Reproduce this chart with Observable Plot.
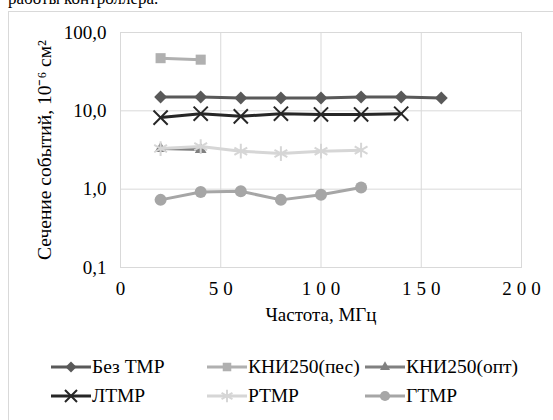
<!DOCTYPE html>
<html>
<head>
<meta charset="utf-8">
<script src="https://cdn.jsdelivr.net/npm/d3@7"></script>
<script src="https://cdn.jsdelivr.net/npm/@observablehq/plot@0.6"></script>
<style>
  html, body { margin: 0; padding: 0; background: #fff; }
  #wrap { position: relative; width: 553px; height: 420px; overflow: hidden; font-family: "Liberation Serif", "Times New Roman", serif; color: #000; }
  #above { position: absolute; left: 8px; top: -10px; font-size: 17px; line-height: 17px; white-space: nowrap; }
  #frame { position: absolute; left: 8px; top: 11px; width: 700px; height: 600px; border: 1px solid #d9d9d9; box-sizing: border-box; }
  #chart { position: absolute; left: 0; top: 0; }
  #chart svg { font-family: "Liberation Serif", "Times New Roman", serif; }
  #chart g[aria-label="x-axis tick label"] text { letter-spacing: 5px; }
  #legend { position: absolute; left: 0; top: 0; width: 553px; height: 420px; }
  .item { position: absolute; display: flex; align-items: center; font-size: 19.5px; white-space: nowrap; }
  .item svg { display: block; }
</style>
</head>
<body>
<div id="wrap">
  <div id="above">работы контроллера.</div>
  <div id="frame"></div>
  <div id="chart"></div>
  <div id="legend"></div>
</div>
<script>
// ---- data ----
const seriesNames = ["Без ТМР", "КНИ250(пес)", "КНИ250(опт)", "ЛТМР", "РТМР", "ГТМР"];
const freqBez = [20, 40, 60, 80, 100, 120, 140, 160];
const valBez  = [15.0, 15.0, 14.6, 14.6, 14.6, 15.0, 15.0, 14.6];
const freqKniPes = [20, 40];
const valKniPes  = [47, 45];
const freqKniOpt = [20, 40];
const valKniOpt  = [3.3, 3.2];
const freqL = [20, 40, 60, 80, 100, 120, 140];
const valL  = [8.2, 9.2, 8.5, 9.2, 9.0, 9.0, 9.2];
const freqR = [20, 40, 60, 80, 100, 120];
const valR  = [3.3, 3.5, 3.05, 2.85, 3.05, 3.15];
const freqG = [20, 40, 60, 80, 100, 120];
const valG  = [0.73, 0.92, 0.94, 0.73, 0.85, 1.05];
const xTicks = [0, 50, 100, 150, 200];
const yTicks = [0.1, 1, 10, 100];
const xTitle = "Частота, МГц";
const yTitle = "Сечение событий, 10⁻⁶ см²";

// ---- styles per series ----
const styles = [
  {color: "#595959", symbol: "diamond2", r: 5.8, fill: true},
  {color: "#b0b0b0", symbol: "square2", r: 6.4, fill: true},
  {color: "#808080", symbol: "triangle2", r: 5.6, fill: true},
  {color: "#262626", symbol: "times", r: 6.5, fill: false},
  {color: "#d6d6d6", symbol: "asterisk", r: 7, fill: false},
  {color: "#a6a6a6", symbol: "circle", r: 6, fill: true}
];
const xs = [freqBez, freqKniPes, freqKniOpt, freqL, freqR, freqG];
const vs = [valBez, valKniPes, valKniOpt, valL, valR, valG];
const tables = seriesNames.map((name, i) => xs[i].map((x, j) => ({series: name, x, y: vs[i][j]})));

const marks = [
  Plot.gridX(xTicks, {stroke: "#d9d9d9", strokeOpacity: 1, strokeWidth: 1}),
  Plot.gridY(yTicks, {stroke: "#d9d9d9", strokeOpacity: 1, strokeWidth: 1}),
  Plot.frame({stroke: "#d9d9d9", strokeWidth: 1}),
  Plot.axisX(xTicks, {tickSize: 0, tickPadding: 14, fontSize: 19, dx: 2.5, tickFormat: d => String(d),
    label: xTitle, labelAnchor: "center", labelArrow: "none", labelOffset: 53}),
  Plot.axisY(yTicks, {tickSize: 0, tickPadding: 14, fontSize: 19, tickFormat: d => d.toFixed(1).replace(".", ","),
    label: null}),
  Plot.text([yTitle], {frameAnchor: "left", text: d => d, rotate: -90, dx: -76, fontSize: 19.5,
    textAnchor: "middle", lineAnchor: "middle", fill: "#000"})
];
tables.forEach((t, i) => {
  const s = styles[i];
  marks.push(Plot.line(t, {x: "x", y: "y", stroke: s.color, strokeWidth: 3, strokeLinejoin: "round"}));
  marks.push(Plot.dot(t, {x: "x", y: "y", symbol: () => s.symbol, r: s.r,
    fill: s.fill ? s.color : "none", stroke: s.color, strokeWidth: s.fill ? 0 : 2}));
});

const chart = Plot.plot({
  width: 553,
  height: 340,
  marginLeft: 120,
  marginRight: 32,
  marginTop: 32,
  marginBottom: 73,
  style: {fontSize: "19px", fontFamily: "Liberation Serif, Times New Roman, serif", color: "#000", background: "transparent"},
  x: {domain: [0, 200]},
  y: {type: "log", domain: [0.1, 100]},
  symbol: {type: "identity"},
  marks
});
document.getElementById("chart").appendChild(chart);

// ---- legend ----
const legendPos = [
  {left: 51, top: 367}, {left: 207, top: 367}, {left: 365, top: 367},
  {left: 51, top: 396}, {left: 207, top: 396}, {left: 365, top: 396}
];
const symMap = {diamond2: d3.symbolDiamond2, square2: d3.symbolSquare2, triangle2: d3.symbolTriangle2,
  times: d3.symbolTimes, asterisk: d3.symbolAsterisk, circle: d3.symbolCircle};
const legend = d3.select("#legend");
seriesNames.forEach((name, i) => {
  const s = styles[i];
  const item = legend.append("div").attr("class", "item")
    .style("left", legendPos[i].left + "px").style("top", (legendPos[i].top - 11) + "px").style("height", "22px");
  const svg = item.append("svg").attr("width", 41).attr("height", 22);
  svg.append("line").attr("x1", 0).attr("x2", 40).attr("y1", 11).attr("y2", 11)
    .attr("stroke", s.color).attr("stroke-width", 2.8);
  const lr = s.r * 0.85;
  svg.append("path").attr("transform", "translate(20,11)")
    .attr("d", d3.symbol(symMap[s.symbol], Math.PI * lr * lr)())
    .attr("fill", s.fill ? s.color : "none").attr("stroke", s.color).attr("stroke-width", s.fill ? 0 : 2);
  item.append("span").text(name);
});
</script>
</body>
</html>
